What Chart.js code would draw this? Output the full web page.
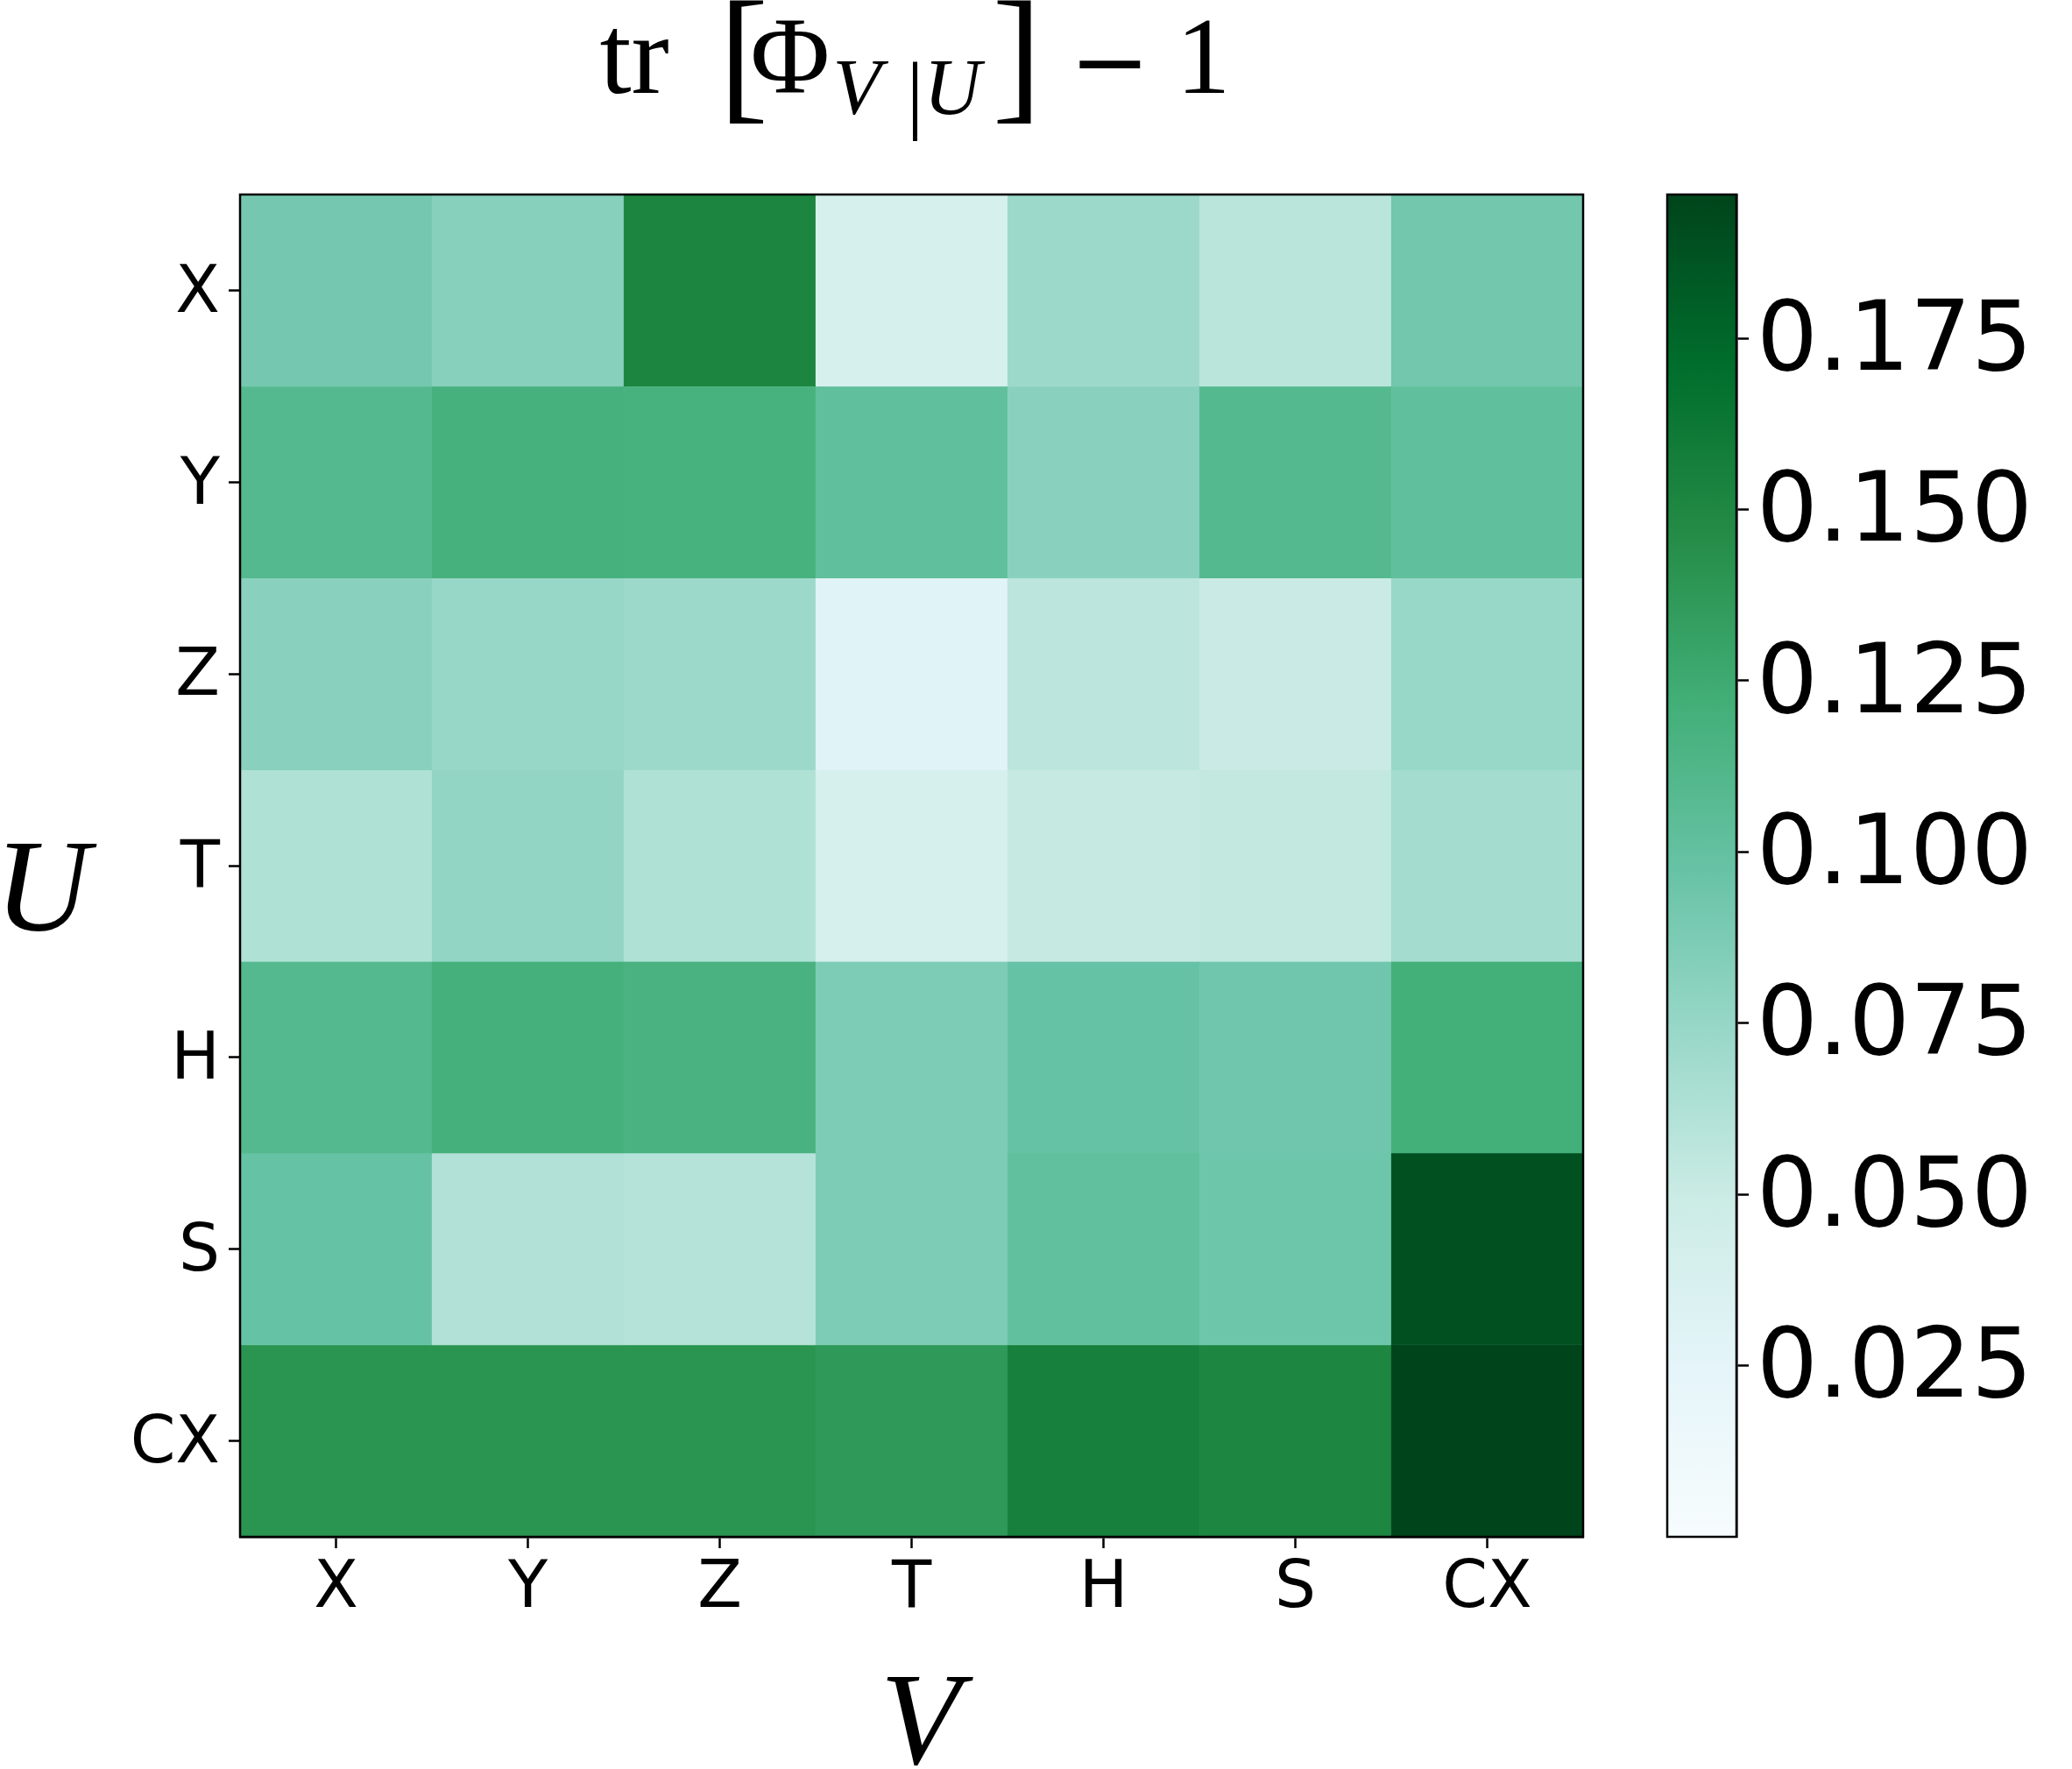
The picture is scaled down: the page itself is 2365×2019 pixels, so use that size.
<!DOCTYPE html>
<html>
<head>
<meta charset="utf-8">
<script src="https://cdn.jsdelivr.net/npm/chart.js@4.4.1/dist/chart.umd.min.js"></script>
<style>
    html, body { margin: 0; padding: 0; background: #ffffff; }
    #wrap { position: relative; width: 2365px; height: 2019px; }
    #heat { position: absolute; left: 0; top: 0; width: 1850px; height: 2019px; }
    #cbar { position: absolute; left: 1850px; top: 0; width: 515px; height: 2019px; }
</style>
</head>
<body>
<div id="wrap">
    <canvas id="heat" width="1850" height="2019"></canvas>
    <canvas id="cbar" width="515" height="2019"></canvas>
</div>
<script>
// ============================================================
// DATA  (rows = U, columns = V)
// ============================================================
const gateLabels = ["X", "Y", "Z", "T", "H", "S", "CX"];

const rowX  = [0.091, 0.082, 0.152, 0.039, 0.072, 0.058, 0.092];
const rowY  = [0.109, 0.119, 0.118, 0.102, 0.081, 0.109, 0.102];
const rowZ  = [0.081, 0.075, 0.072, 0.029, 0.057, 0.050, 0.074];
const rowT  = [0.063, 0.077, 0.063, 0.039, 0.052, 0.054, 0.068];
const rowH  = [0.109, 0.120, 0.117, 0.087, 0.098, 0.093, 0.121];
const rowS  = [0.098, 0.062, 0.060, 0.087, 0.101, 0.094, 0.189];
const rowCX = [0.141, 0.141, 0.141, 0.137, 0.156, 0.151, 0.196];

const cbTicks = [0.025, 0.050, 0.075, 0.100, 0.125, 0.150, 0.175];
const cbMin = 0;
const cbMax = 0.196;

// ============================================================
// COLOUR MAP (matplotlib BuGn)
// ============================================================
const BUGN = [
    [247, 252, 253], [229, 245, 249], [204, 236, 230], [153, 216, 201],
    [102, 194, 164], [65, 174, 118], [35, 139, 69], [0, 109, 44], [0, 68, 27]
];

function buGn(v) {
    let t = (v - cbMin) / (cbMax - cbMin);
    t = Math.max(0, Math.min(1, t));
    const s = t * (BUGN.length - 1);
    const i = Math.min(Math.floor(s), BUGN.length - 2);
    const f = s - i;
    const a = BUGN[i], b = BUGN[i + 1];
    const c = a.map((x, k) => Math.round(x + (b[k] - x) * f));
    return `rgb(${c[0]},${c[1]},${c[2]})`;
}

const SANS = "'DejaVu Sans', sans-serif";
const SERIF = "'Liberation Serif', 'DejaVu Serif', serif";

// Black frame round the chart area (matplotlib spines)
const framePlugin = {
    id: "frame",
    afterDraw(chart) {
        const { ctx, chartArea: a } = chart;
        ctx.save();
        ctx.strokeStyle = "#000";
        ctx.lineWidth = 2.5;
        ctx.strokeRect(a.left, a.top, a.right - a.left, a.bottom - a.top);
        ctx.restore();
    }
};

// Title and axis labels in math style
const mathTextPlugin = {
    id: "mathText",
    afterDraw(chart) {
        const { ctx, chartArea: a } = chart;
        const cx = (a.left + a.right) / 2;
        ctx.save();
        ctx.fillStyle = "#000";
        ctx.textBaseline = "alphabetic";
        ctx.textAlign = "left";

        // tr [ Φ_{V|U} ] − 1
        const left = cx - 356;
        const pieces = [
            { t: "tr", dx: 0,   y: 106, font: `130px ${SERIF}` },
            { t: "[",  dx: 136, y: 118, font: `170px ${SERIF}` },
            { t: "Φ",  dx: 172, y: 106, font: `124px ${SERIF}` },
            { t: "V",  dx: 266, y: 130, font: `italic 90px ${SERIF}` },
            { t: "|",  dx: 350, y: 140, font: `100px ${SERIF}` },
            { t: "U",  dx: 370, y: 130, font: `italic 90px ${SERIF}` },
            { t: "]",  dx: 448, y: 118, font: `170px ${SERIF}` },
            { t: "−",  dx: 536, y: 108, font: `110px 'DejaVu Serif', serif` },
            { t: "1",  dx: 658, y: 106, font: `124px ${SERIF}` }
        ];
        pieces.forEach(p => {
            ctx.font = p.font;
            ctx.fillText(p.t, left + p.dx, p.y);
        });

        // axis labels
        ctx.font = `italic 150px ${SERIF}`;
        ctx.fillText("U", -6, 1062);
        ctx.textAlign = "center";
        ctx.font = `italic 150px ${SERIF}`;
        ctx.fillText("V", cx + 10, 2013);
        ctx.restore();
    }
};

// ============================================================
// HEATMAP
// ============================================================
const rows = [rowX, rowY, rowZ, rowT, rowH, rowS, rowCX];

const heatDatasets = rows.map((vals, r) => ({
    label: gateLabels[r],
    data: vals.map(() => [r, r + 1]),
    backgroundColor: vals.map(buGn),
    borderColor: vals.map(buGn),
    borderWidth: 0.6,
    borderSkipped: false,
    grouped: false,
    categoryPercentage: 1,
    barPercentage: 1
}));

const tickGrid = {
    drawOnChartArea: false,
    drawTicks: true,
    tickLength: 13,
    tickWidth: 2.5,
    tickColor: "#000"
};

new Chart(document.getElementById("heat"), {
    type: "bar",
    data: { labels: gateLabels, datasets: heatDatasets },
    options: {
        responsive: false,
        animation: false,
        layout: { padding: { left: 0, top: 222, right: 43, bottom: 125 } },
        plugins: { legend: { display: false }, tooltip: { enabled: false }, title: { display: false } },
        scales: {
            x: {
                type: "category",
                offset: true,
                grid: Object.assign({ offset: false }, tickGrid),
                border: { display: true, color: "#000", width: 2.5 },
                ticks: {
                    font: { family: SANS, size: 74 },
                    color: "#000",
                    padding: 3,
                    maxRotation: 0,
                    autoSkip: false
                },
                afterFit: s => { s.height = 140; }
            },
            y: {
                type: "linear",
                min: 0,
                max: gateLabels.length,
                reverse: true,
                afterBuildTicks: s => { s.ticks = gateLabels.map((_, i) => ({ value: i + 0.5 })); },
                grid: tickGrid,
                border: { display: true, color: "#000", width: 2.5 },
                ticks: {
                    font: { family: SANS, size: 74 },
                    color: "#000",
                    padding: 10,
                    labelOffset: 5,
                    callback: (v, i) => gateLabels[i]
                },
                afterFit: s => { s.width = 274; }
            }
        }
    },
    plugins: [framePlugin, mathTextPlugin]
});

// ============================================================
// COLOUR BAR
// ============================================================
function barGradient(context) {
    const { chart } = context;
    const a = chart.chartArea;
    if (!a) return null;
    const g = chart.ctx.createLinearGradient(0, a.bottom, 0, a.top);
    BUGN.forEach((c, i) => g.addColorStop(i / (BUGN.length - 1), `rgb(${c[0]},${c[1]},${c[2]})`));
    return g;
}

new Chart(document.getElementById("cbar"), {
    type: "bar",
    data: {
        labels: [""],
        datasets: [{
            data: [[cbMin, cbMax]],
            backgroundColor: barGradient,
            borderWidth: 0,
            categoryPercentage: 1,
            barPercentage: 1
        }]
    },
    options: {
        responsive: false,
        animation: false,
        layout: { padding: { left: 53, top: 222, right: 0, bottom: 265 } },
        plugins: { legend: { display: false }, tooltip: { enabled: false } },
        scales: {
            x: { display: false },
            y: {
                position: "right",
                min: cbMin,
                max: cbMax,
                afterBuildTicks: s => { s.ticks = cbTicks.map(v => ({ value: v })); },
                grid: Object.assign({}, tickGrid, { tickLength: 14 }),
                border: { display: true, color: "#000", width: 2.5 },
                ticks: {
                    font: { family: SANS, size: 110 },
                    color: "#000",
                    padding: 9,
                    labelOffset: 7,
                    callback: v => v.toFixed(3)
                },
                afterFit: s => { s.width = 383; }
            }
        }
    },
    plugins: [framePlugin]
});
</script>
</body>
</html>
